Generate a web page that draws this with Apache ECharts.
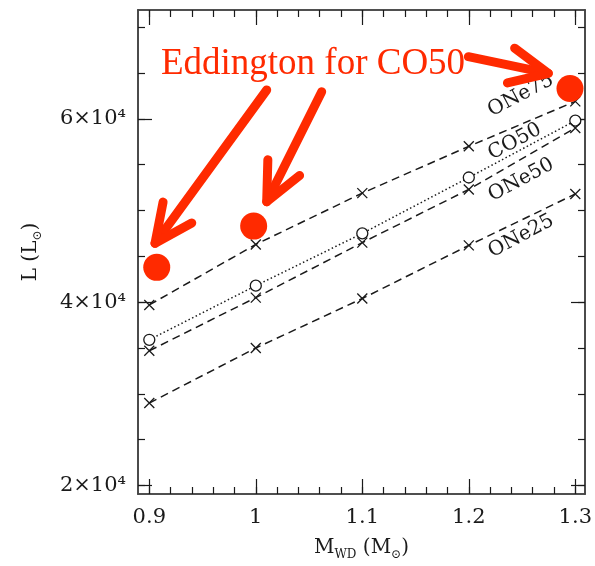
<!DOCTYPE html>
<html><head><meta charset="utf-8">
<script src="https://cdn.jsdelivr.net/npm/echarts@6/dist/echarts.min.js"></script>
<style>html,body{margin:0;padding:0;background:#fff}#c{width:595px;height:566px}</style>
</head><body><div id="c"></div>
<script>
// ---- data ----
const masses = [0.9, 1.0, 1.1, 1.2, 1.3];
const one75 = [39700, 46300, 51900, 57000, 61900];
const co50  = [35900, 41800, 47500, 53600, 59800];
const one50 = [34700, 40500, 46500, 52300, 59000];
const one25 = [29000, 35000, 40400, 46200, 51800];
const eddMass = [0.907, 0.998, 1.295];
const eddLum  = [43800, 48300, 63300];
const lineNames  = ['ONe75', 'CO50', 'ONe50', 'ONe25'];
const lineLabelX = [1.2488, 1.2432, 1.2492, 1.2492];
const lineLabelY = [62570, 57510, 53330, 47210];
const xMajorTicks = [0.9, 1.0, 1.1, 1.2, 1.3];
const xTickLabels = ['0.9', '1', '1.1', '1.2', '1.3'];
const xMinorTicks = [0.9, 0.92, 0.94, 0.96, 0.98, 1.0, 1.02, 1.04, 1.06, 1.08, 1.1, 1.12, 1.14, 1.16, 1.18, 1.2, 1.22, 1.24, 1.26, 1.28, 1.3];
const yMajorTicks = [20000, 40000, 60000];
const yTickLabels = ['2×10⁴', '4×10⁴', '6×10⁴'];
const yMinorTicks = [20000, 25000, 30000, 35000, 40000, 45000, 50000, 55000, 60000, 65000, 70000];
const annotationText = 'Eddington for CO50';

// ---- styles ----
const RED = '#ff2a00';
const INK = '#1a1a1a';
const FRAME = '#444';
const FONT = 'DejaVu Serif';
const X_MIN = 0.8894, X_MAX = 1.3091, Y_MIN = 19080, Y_MAX = 71870;

function pick(ticks, labels, v) {
  for (let i = 0; i < ticks.length; i++) if (Math.abs(ticks[i] - v) < 1e-9) return labels[i];
  return '';
}
function xAx(pos, ticks, len, withLabel) {
  return {
    type: 'value', gridIndex: 0, position: pos, min: X_MIN, max: X_MAX,
    axisLine: { show: true, onZero: false, lineStyle: { color: FRAME, width: 1.6 } },
    axisTick: { show: true, inside: true, length: len, customValues: ticks, lineStyle: { color: INK, width: 1.2 } },
    axisLabel: withLabel ? { show: true, customValues: xMajorTicks, margin: 13, color: INK, fontFamily: FONT, fontSize: 21,
      formatter: v => pick(xMajorTicks, xTickLabels, v) } : { show: false },
    splitLine: { show: false },
    name: withLabel ? '{t|M}{s|WD}{t| (M}{s|⊙}{t|)}' : '',
    nameLocation: 'middle', nameGap: 41,
    nameTextStyle: { rich: {
      t: { fontFamily: FONT, fontSize: 20, color: INK, lineHeight: 26 },
      s: { fontFamily: FONT, fontSize: 12, color: INK, lineHeight: 11, verticalAlign: 'bottom' } } }
  };
}
function yAx(pos, ticks, len, withLabel) {
  return {
    type: 'value', gridIndex: 0, position: pos, min: Y_MIN, max: Y_MAX,
    axisLine: { show: true, onZero: false, lineStyle: { color: FRAME, width: 1.6 } },
    axisTick: { show: true, inside: true, length: len, customValues: ticks, lineStyle: { color: INK, width: 1.2 } },
    axisLabel: withLabel ? { show: true, customValues: yMajorTicks, margin: 12, color: INK, fontFamily: FONT, fontSize: 21,
      formatter: v => pick(yMajorTicks, yTickLabels, v) } : { show: false },
    splitLine: { show: false },
    name: withLabel ? '{t|L (L}{s|⊙}{t|)}' : '',
    nameLocation: 'middle', nameGap: 94,
    nameTextStyle: { rich: {
      t: { fontFamily: FONT, fontSize: 20, color: INK, lineHeight: 26 },
      s: { fontFamily: FONT, fontSize: 12, color: INK, lineHeight: 11, verticalAlign: 'bottom' } } }
  };
}

const CROSS = 'path://M0,0L10,10M10,0L0,10';
function lineSeries(name, vals, dash, symbol) {
  return {
    name, type: 'line', xAxisIndex: 0, yAxisIndex: 0,
    data: masses.map((m, i) => [m, vals[i]]),
    symbol: symbol, symbolSize: symbol === CROSS ? 10 : 11, showAllSymbol: true,
    lineStyle: { color: INK, width: 1.5, type: dash },
    itemStyle: { color: symbol === CROSS ? INK : '#fff', borderColor: INK, borderWidth: 1.3, opacity: 1 },
    z: 3, silent: true
  };
}

const chart = echarts.init(document.getElementById('c'), null, { renderer: 'canvas' });

function arrow(x0, y0, x1, y1) {
  const L = 42, A = 25 * Math.PI / 180;
  const ang = Math.atan2(y0 - y1, x0 - x1);
  const b1 = [x1 + L * Math.cos(ang + A), y1 + L * Math.sin(ang + A)];
  const b2 = [x1 + L * Math.cos(ang - A), y1 + L * Math.sin(ang - A)];
  const st = { stroke: RED, lineWidth: 9, lineCap: 'round', lineJoin: 'round', fill: null };
  return [
    { type: 'polyline', z: 100, shape: { points: [[x0, y0], [x1, y1]] }, style: st },
    { type: 'polyline', z: 100, shape: { points: [b1, [x1, y1], b2] }, style: st }
  ];
}

chart.setOption({
  animation: false,
  backgroundColor: '#fff',
  grid: { left: 138, right: 8, top: 10, bottom: 69, containLabel: false },
  xAxis: [
    xAx('bottom', xMajorTicks, 15, true),
    xAx('bottom', xMinorTicks, 7, false),
    xAx('top', xMajorTicks, 15, false),
    xAx('top', xMinorTicks, 7, false)
  ],
  yAxis: [
    yAx('left', yMajorTicks, 14, true),
    yAx('left', yMinorTicks, 7, false),
    yAx('right', yMajorTicks, 14, false),
    yAx('right', yMinorTicks, 7, false)
  ],
  series: [
    lineSeries('ONe75', one75, [8, 5], CROSS),
    lineSeries('CO50', co50, [1.5, 2.5], 'circle'),
    lineSeries('ONe50', one50, [8, 5], CROSS),
    lineSeries('ONe25', one25, [8, 5], CROSS),
    {
      name: 'labels', type: 'scatter', xAxisIndex: 0, yAxisIndex: 0, symbolSize: 0, silent: true, z: 4,
      itemStyle: { opacity: 1 },
      data: lineNames.map((n, i) => ({ value: [lineLabelX[i], lineLabelY[i]], name: n })),
      label: { show: true, position: 'inside', rotate: 28, formatter: p => p.name, opacity: 1,
        color: INK, fontFamily: FONT, fontSize: 20 }
    },
    {
      name: 'Eddington', type: 'scatter', xAxisIndex: 0, yAxisIndex: 0, symbol: 'circle', symbolSize: 27,
      data: eddMass.map((m, i) => [m, eddLum[i]]), itemStyle: { color: RED, opacity: 1 }, z: 10, silent: true
    }
  ],
  graphic: [
    { type: 'text', z: 100, style: { x: 313, y: 64, text: annotationText, fill: RED,
      font: '37px "Liberation Serif"', textAlign: 'center', textVerticalAlign: 'middle' } },
    ...arrow(266.7, 90, 155, 243.3),
    ...arrow(321.7, 91.7, 266.7, 201.7),
    ...arrow(468.3, 56.7, 548.3, 73.3)
  ]
});
</script></body></html>
